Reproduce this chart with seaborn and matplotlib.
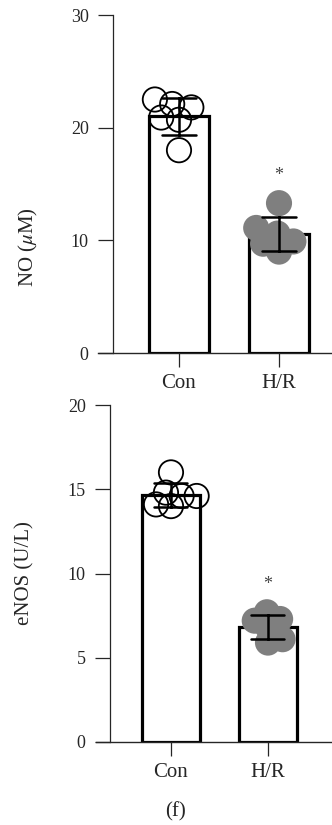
import numpy as np
import pandas as pd
import matplotlib
matplotlib.use("Agg")
import matplotlib.pyplot as plt
import seaborn as sns

# ---- data ----
groups = ["Con", "H/R"]
no_con = [22.5, 22.1, 21.8, 20.9, 20.7, 18.0]
no_hr = [13.3, 11.1, 10.6, 9.9, 9.7, 9.0]
enos_con = [14.1, 14.8, 14.6, 14.6, 14.0, 16.0]
enos_hr = [7.2, 7.3, 7.7, 6.8, 5.9, 6.1]
no_ticks = [0, 10, 20, 30]
enos_ticks = [0, 5, 10, 15, 20]

sns.set_style("ticks")
plt.rcParams["font.family"] = ["Liberation Serif", "DejaVu Serif"]
plt.rcParams["mathtext.fontset"] = "stix"

fig = plt.figure(figsize=(3.32, 8.25), dpi=100)
swarm_colls = []

def panel(rect, con, hr, ticks, ylabel, xlim, spine_x, label_xy, swarm_size):
    ax = fig.add_axes(rect)
    df = pd.DataFrame({
        "group": [groups[0]] * len(con) + [groups[1]] * len(hr),
        "value": list(con) + list(hr),
    })
    sns.barplot(data=df, x="group", y="value", order=groups, errorbar="sd",
                color="white", edgecolor="black", linewidth=2.3, width=0.6,
                capsize=0.34, err_kws={"color": "black", "linewidth": 1.8},
                ax=ax)
    for ln in ax.lines:
        ln.set_zorder(5)
    for p in ax.patches:
        p.set_zorder(1)
    n0 = len(ax.collections)
    sns.swarmplot(data=df[df.group == groups[0]], x="group", y="value",
                  order=groups, size=swarm_size, ax=ax, color="white")
    for c in ax.collections[n0:]:
        c.set_facecolor("none"); c.set_edgecolor("black"); c.set_linewidth(1.3)
        c.set_zorder(3)
        swarm_colls.append(c)
    n1 = len(ax.collections)
    sns.swarmplot(data=df[df.group == groups[1]], x="group", y="value",
                  order=groups, size=swarm_size, ax=ax, color="#7f7f7f")
    for c in ax.collections[n1:]:
        c.set_facecolor("#7f7f7f"); c.set_edgecolor("#7f7f7f"); c.set_linewidth(1.3)
        c.set_zorder(4)
        swarm_colls.append(c)
    ax.annotate("*", xy=(1, max(hr)), xytext=(0, 20), textcoords="offset points",
                ha="center", va="center", fontsize=13, color="#444444")
    ax.set_ylim(ticks[0], ticks[-1])
    ax.set_yticks(ticks)
    ax.set_xlim(*xlim)
    ax.spines["top"].set_visible(False)
    ax.spines["right"].set_visible(False)
    ax.spines["left"].set_position(("data", spine_x))
    ax.spines["left"].set_linewidth(0.9)
    ax.spines["bottom"].set_linewidth(1.0)
    ax.tick_params(axis="y", length=10.5, width=0.9, labelsize=13, pad=7)
    ax.tick_params(axis="x", length=10, width=0.9, labelsize=15, pad=5)
    ax.set_xlabel("")
    ax.set_ylabel(ylabel, fontsize=15)
    ax.yaxis.set_label_coords(*label_xy)
    return ax

W, H = 332, 825
panel([98 / W, 1 - 353 / H, (W - 98) / W, 338 / H], no_con, no_hr, no_ticks,
      r"NO ($\mu$M)", (-0.81, 1.53), -0.66, (-0.25, 0.314), 11)
panel([96 / W, 1 - 742 / H, (W - 96) / W, 337 / H], enos_con, enos_hr, enos_ticks,
      "eNOS (U/L)", (-0.773, 1.66), -0.629, (-0.26, 0.5), 9)

fig.text(175 / W, 1 - 812 / H, "(f)", ha="center", va="center", fontsize=15)

# let seaborn lay out the swarm (compact), then freeze positions and enlarge markers
fig.canvas.draw()
for c in swarm_colls:
    if "draw" in c.__dict__:
        del c.draw
    n = len(c.get_offsets())
    if n:
        c.set_sizes([17.5 ** 2] * n)

fig.savefig("out.png", dpi=100)
